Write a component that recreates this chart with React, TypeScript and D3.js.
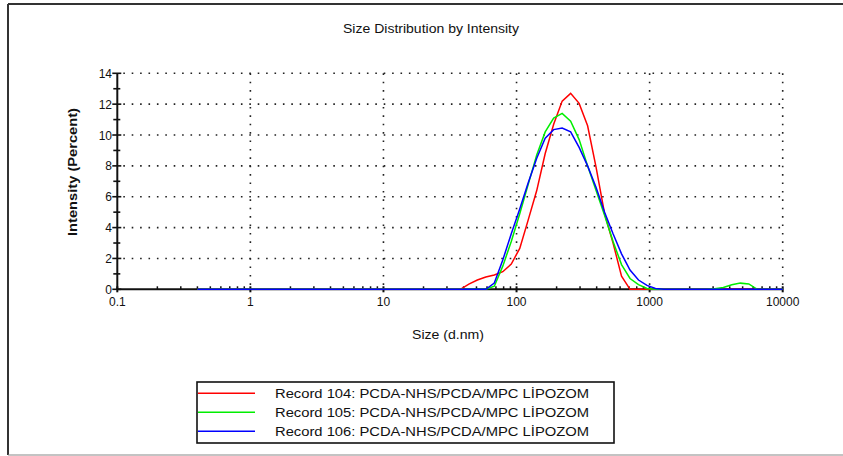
import React from "react";
import * as d3 from "d3";

const sizes = [0.4, 0.4632, 0.5365, 0.6213, 0.7195, 0.8332, 0.9649, 1.117, 1.294, 1.499, 1.736, 2.01, 2.328, 2.696, 3.122, 3.615, 4.187, 4.849, 5.615, 6.503, 7.531, 8.721, 10.1, 11.7, 13.54, 15.69, 18.17, 21.04, 24.36, 28.21, 32.67, 37.84, 43.82, 50.75, 58.77, 68.06, 78.82, 91.28, 105.7, 122.4, 141.8, 164.2, 190.1, 220.2, 255, 295.3, 342, 396.1, 458.7, 531.2, 615.1, 712.4, 825, 955.4, 1106, 1281, 1484, 1718, 1990, 2305, 2669, 3091, 3580, 4145, 4801, 5560, 6439, 7456, 8635, 10000];

const record104 = [0, 0, 0, 0, 0, 0, 0, 0, 0, 0, 0, 0, 0, 0, 0, 0, 0, 0, 0, 0, 0, 0, 0, 0, 0, 0, 0, 0, 0, 0, 0, 0, 0.34, 0.6, 0.8, 0.93, 1.14, 1.64, 2.65, 4.5, 6.4, 8.8, 10.7, 12.2, 12.7, 12.05, 10.6, 7.9, 4.9, 3.0, 0.85, 0, 0, 0, 0, 0, 0, 0, 0, 0, 0, 0, 0, 0, 0, 0, 0, 0, 0, 0];
const record105 = [0, 0, 0, 0, 0, 0, 0, 0, 0, 0, 0, 0, 0, 0, 0, 0, 0, 0, 0, 0, 0, 0, 0, 0, 0, 0, 0, 0, 0, 0, 0, 0, 0, 0, 0, 0.2, 1.5, 3.1, 4.9, 6.8, 8.7, 10.2, 11.1, 11.4, 10.9, 9.7, 8.0, 6.4, 4.8, 3.1, 1.6, 0.7, 0.3, 0.05, 0, 0, 0, 0, 0, 0, 0, 0.03, 0.12, 0.3, 0.4, 0.35, 0, 0, 0, 0];
const record106 = [0, 0, 0, 0, 0, 0, 0, 0, 0, 0, 0, 0, 0, 0, 0, 0, 0, 0, 0, 0, 0, 0, 0, 0, 0, 0, 0, 0, 0, 0, 0, 0, 0, 0, 0, 0.4, 1.9, 3.6, 5.2, 6.9, 8.5, 9.8, 10.35, 10.45, 10.2, 9.2, 8.0, 6.6, 5.0, 3.6, 2.3, 1.25, 0.6, 0.25, 0.05, 0, 0, 0, 0, 0, 0, 0, 0, 0, 0, 0, 0, 0, 0, 0];

const seriesNames = [
  "Record 104: PCDA-NHS/PCDA/MPC LİPOZOM",
  "Record 105: PCDA-NHS/PCDA/MPC LİPOZOM",
  "Record 106: PCDA-NHS/PCDA/MPC LİPOZOM",
];
const seriesValues = [record104, record105, record106];
const seriesColors = ["#ff0000", "#00ee00", "#0000ff"];

const xTickValues = [0.1, 1, 10, 100, 1000, 10000];
const xTickLabels = ["0.1", "1", "10", "100", "1000", "10000"];
const yTickValues = [0, 2, 4, 6, 8, 10, 12, 14];

const title = "Size Distribution by Intensity";
const xLabel = "Size (d.nm)";
const yLabel = "Intensity (Percent)";

const FONT = "'Liberation Sans', Arial, sans-serif";

export default function App() {
  const x = d3.scaleLog().domain([0.1, 10000]).range([117.3, 782.7]);
  const y = d3.scaleLinear().domain([0, 14]).range([289.3, 73.3]);

  const line = d3
    .line<number>()
    .x((_, i) => x(sizes[i]))
    .y((v) => y(v));

  const minorX: number[] = [];
  for (let e = -1; e < 4; e++) {
    for (let k = 2; k <= 9; k++) minorX.push(k * Math.pow(10, e));
  }
  const yInts = d3.range(0, 15);
  const gridDash = "1.6 6.8";

  return (
    <svg
      width={843}
      height={456}
      style={{ position: "absolute", left: 0, top: 0, background: "#fff" }}
    >
      <rect x={0} y={0} width={843} height={456} fill="#fff" />
      {/* outer frame */}
      <line x1={8} y1={4} x2={843} y2={4} stroke="#333" strokeWidth={2} />
      <line x1={8} y1={4} x2={8} y2={455} stroke="#333" strokeWidth={2} />
      <line x1={8} y1={455} x2={843} y2={455} stroke="#888" strokeWidth={1.2} />

      <text
        x={431}
        y={33}
        textAnchor="middle"
        fontFamily={FONT}
        fontSize={12}
        textLength={176}
        lengthAdjust="spacingAndGlyphs"
        fill="#111"
      >
        {title}
      </text>

      {/* horizontal grid */}
      {yTickValues.filter((v) => v > 0).map((v) => (
        <line
          key={"hg" + v}
          x1={x(0.1) + 6}
          x2={x(10000)}
          y1={y(v)}
          y2={y(v)}
          stroke="#222"
          strokeWidth={1.6}
          strokeDasharray={gridDash}
        />
      ))}
      {/* vertical grid */}
      {xTickValues.filter((v) => v > 0.1).map((v) => (
        <line
          key={"vg" + v}
          x1={x(v)}
          x2={x(v)}
          y1={y(14)}
          y2={y(0)}
          stroke="#222"
          strokeWidth={1.6}
          strokeDasharray={gridDash}
        />
      ))}

      {/* x axis */}
      <line x1={x(0.1)} x2={x(10000)} y1={y(0)} y2={y(0)} stroke="#111" strokeWidth={2} />
      {minorX.map((v) => (
        <line key={"mx" + v} x1={x(v)} x2={x(v)} y1={y(0) - 3} y2={y(0)} stroke="#111" strokeWidth={1.5} />
      ))}
      {xTickValues.map((v) => (
        <line key={"Mx" + v} x1={x(v)} x2={x(v)} y1={y(0) - 3} y2={y(0) + 3} stroke="#111" strokeWidth={2} />
      ))}
      {xTickValues.map((v, i) => (
        <text
          key={"xl" + v}
          x={x(v)}
          y={306}
          textAnchor="middle"
          fontFamily={FONT}
          fontSize={12}
          fill="#111"
        >
          {xTickLabels[i]}
        </text>
      ))}
      <text
        x={448}
        y={339}
        textAnchor="middle"
        fontFamily={FONT}
        fontSize={12}
        textLength={72}
        lengthAdjust="spacingAndGlyphs"
        fill="#111"
      >
        {xLabel}
      </text>

      {/* y axis */}
      <line x1={x(0.1)} x2={x(0.1)} y1={y(14)} y2={y(0)} stroke="#111" strokeWidth={2} />
      {yInts.map((v) => (
        <line
          key={"yt" + v}
          x1={x(0.1) - (v % 2 === 0 ? 5 : 4)}
          x2={x(0.1) + (v % 2 === 0 ? 4 : 3)}
          y1={y(v)}
          y2={y(v)}
          stroke="#111"
          strokeWidth={1.6}
        />
      ))}
      {yTickValues.map((v) => (
        <text
          key={"yl" + v}
          x={112}
          y={y(v) + 4.5}
          textAnchor="end"
          fontFamily={FONT}
          fontSize={12}
          fill="#111"
        >
          {v}
        </text>
      ))}
      <text
        transform={`translate(77,172) rotate(-90)`}
        textAnchor="middle"
        fontFamily={FONT}
        fontSize={12}
        fontWeight="bold"
        textLength={128}
        lengthAdjust="spacingAndGlyphs"
        fill="#111"
      >
        {yLabel}
      </text>

      {/* series */}
      {seriesValues.map((vals, i) => (
        <path
          key={"s" + i}
          d={line(vals) || ""}
          fill="none"
          stroke={seriesColors[i]}
          strokeWidth={1.5}
        />
      ))}

      {/* legend */}
      <rect x={197} y={382} width={417} height={61} fill="#fff" stroke="#111" strokeWidth={1.6} />
      {seriesNames.map((name, i) => (
        <g key={"lg" + i}>
          <line x1={198} x2={255} y1={393.3 + i * 19} y2={393.3 + i * 19} stroke={seriesColors[i]} strokeWidth={1.5} />
          <text
            x={275}
            y={398 + i * 19}
            fontFamily={FONT}
            fontSize={12}
            textLength={314}
            lengthAdjust="spacingAndGlyphs"
            fill="#111"
          >
            {name}
          </text>
        </g>
      ))}
    </svg>
  );
}
